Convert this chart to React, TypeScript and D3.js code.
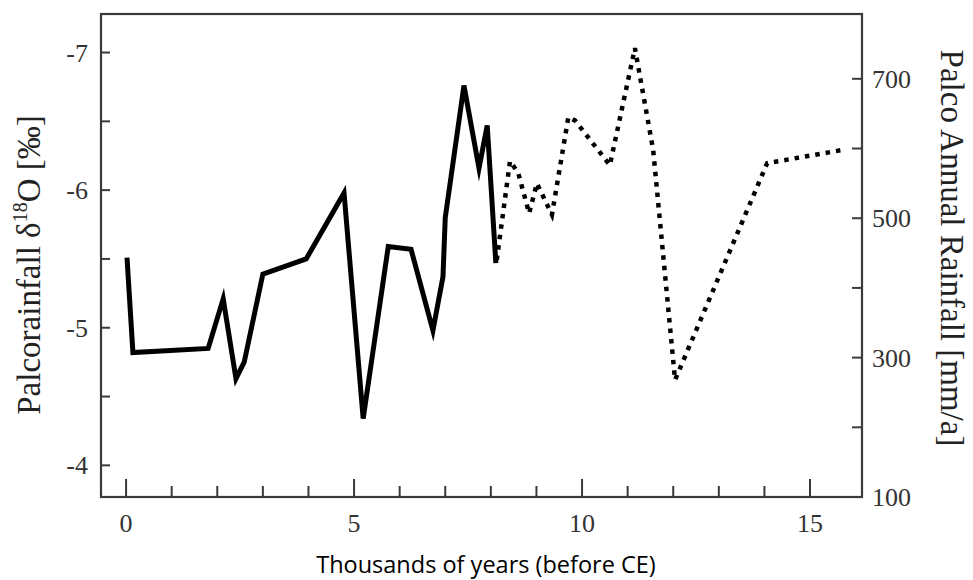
import * as d3 from 'd3';

// δ18O record (solid line, left axis)
const isoAge = [0.02, 0.15, 1.8, 2.13, 2.41, 2.59, 3.0, 3.95, 4.78, 5.2, 5.75, 6.25, 6.73, 6.95, 7.0, 7.41, 7.74, 7.92, 8.11];
const isoVal = [-5.51, -4.82, -4.85, -5.21, -4.63, -4.75, -5.39, -5.5, -5.98, -4.34, -5.59, -5.57, -4.98, -5.37, -5.8, -6.76, -6.16, -6.47, -5.47];

// reconstructed annual rainfall (dotted line, right axis)
const rainAge = [8.13, 8.42, 8.6, 8.84, 9.01, 9.34, 9.7, 9.85, 10.61, 11.16, 11.56, 12.04, 14.06, 15.72];
const rainVal = [440, 582, 565, 507, 550, 505, 645, 640, 576, 744, 598, 268, 579, 598];

const xMajor = [0, 5, 10, 15];
const xMinor = [1, 2, 3, 4, 6, 7, 8, 9, 11, 12, 13, 14];
const leftTicks = [-4, -4.5, -5, -5.5, -6, -6.5, -7];
const leftLabels = [-4, -5, -6, -7];
const rightTicks = [200, 300, 400, 500, 600, 700];
const rightLabels = [100, 300, 500, 700];

const W = 973, H = 580;
const m = { left: 101, right: 111, top: 14, bottom: 83 };
const serif = '"Liberation Serif", "DejaVu Serif", serif';
const axisCol = '#3a3a3a';

export default function App() {
  const x = d3.scaleLinear().domain([-0.55, 16.14]).range([m.left, W - m.right]);
  const yL = d3.scaleLinear().domain([-3.77, -7.28]).range([H - m.bottom, m.top]);
  const yR = d3.scaleLinear().domain([100, 793]).range([H - m.bottom, m.top]);
  const x0 = m.left, x1 = W - m.right, y0 = H - m.bottom, y1 = m.top;

  const isoLine = d3.line<number>().x((_, i) => x(isoAge[i])).y(d => yL(d));
  const rainLine = d3.line<number>().x((_, i) => x(rainAge[i])).y(d => yR(d));

  return (
    <svg width={W} height={H} style={{ position: 'absolute', left: 0, top: 0, background: '#fff' }}>
      <rect x={0} y={0} width={W} height={H} fill="#fff" />

      {/* ticks */}
      {xMajor.map(t => (
        <line key={'xM' + t} x1={x(t)} x2={x(t)} y1={y0} y2={y0 - 18} stroke={axisCol} strokeWidth={2} />
      ))}
      {xMinor.map(t => (
        <line key={'xm' + t} x1={x(t)} x2={x(t)} y1={y0} y2={y0 - 11} stroke={axisCol} strokeWidth={2} />
      ))}
      {leftTicks.map(t => (
        <line key={'l' + t} x1={x0} x2={x0 + 9} y1={yL(t)} y2={yL(t)} stroke={axisCol} strokeWidth={2} />
      ))}
      {rightTicks.map(t => (
        <line key={'r' + t} x1={x1} x2={x1 - 10} y1={yR(t)} y2={yR(t)} stroke={axisCol} strokeWidth={2} />
      ))}

      {/* frame */}
      <rect x={x0} y={y1} width={x1 - x0} height={y0 - y1} fill="none" stroke={axisCol} strokeWidth={2.2} />

      {/* series */}
      <path d={rainLine(rainVal) ?? ''} fill="none" stroke="#000" strokeWidth={4.5} strokeDasharray="4.5 6" />
      <path d={isoLine(isoVal) ?? ''} fill="none" stroke="#000" strokeWidth={5} strokeLinejoin="miter" strokeMiterlimit={6} />

      {/* tick labels */}
      <g fontFamily={serif} fontSize={26} fill="#333">
        {xMajor.map(t => (
          <text key={'xt' + t} x={x(t)} y={y0 + 35} textAnchor="middle">{t}</text>
        ))}
        {leftLabels.map(t => (
          <text key={'lt' + t} x={x0 - 13} y={yL(t) + 9} textAnchor="end">{t}</text>
        ))}
        {rightLabels.map(t => (
          <text key={'rt' + t} x={x1 + 10} y={yR(t) + 9} textAnchor="start">{t}</text>
        ))}
      </g>

      {/* axis titles */}
      <text transform={`translate(40,${265}) rotate(-90)`} textAnchor="middle" fontFamily={serif} fontSize={33} fill="#222">
        Palcorainfall δ<tspan fontSize={20} dy={-13}>18</tspan><tspan dy={13}>O [‰]</tspan>
      </text>
      <text transform={`translate(941,${248}) rotate(90)`} textAnchor="middle" fontFamily={serif} fontSize={33} fill="#222">
        Palco Annual Rainfall [mm/a]
      </text>
      <text x={486} y={573} textAnchor="middle" fontFamily='"Open Sans", "Noto Sans", sans-serif' fontSize={23.5} fill="#000">
        Thousands of years (before CE)
      </text>
    </svg>
  );
}
